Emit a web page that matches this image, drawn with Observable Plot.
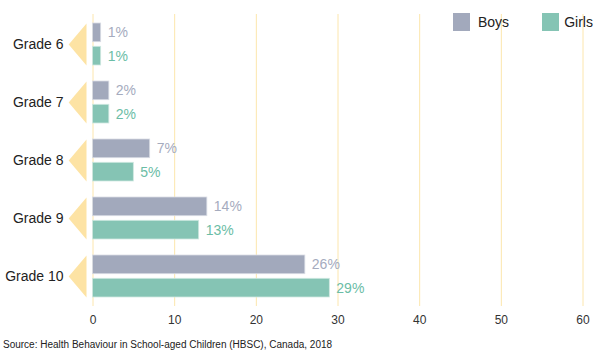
<!DOCTYPE html>
<html>
<head>
<meta charset="utf-8">
<script src="https://cdn.jsdelivr.net/npm/d3@7"></script>
<script src="https://cdn.jsdelivr.net/npm/@observablehq/plot@0.6"></script>
<style>
  html, body { margin: 0; padding: 0; background: #fff; }
  body { width: 600px; height: 356px; position: relative; overflow: hidden;
         font-family: "Liberation Sans", Arial, Helvetica, sans-serif; }
  #legend { position: absolute; top: 13px; left: 453px; display: flex; align-items: center;
            font-size: 14px; color: #222; }
  .sw { width: 17px; height: 18px; display: inline-block; }
  .lab { margin-left: 8px; line-height: 18px; }
  #caption { position: absolute; left: 3px; top: 339px; font-size: 10px; color: #222; line-height: 12px; }
</style>
</head>
<body>
<div id="chart"></div>
<div id="legend">
  <span class="sw" style="background:#a2a9bc"></span><span class="lab" style="margin-right:33px">Boys</span>
  <span class="sw" style="background:#85c4b4"></span><span class="lab" style="margin-left:5px">Girls</span>
</div>
<div id="caption">Source: Health Behaviour in School-aged Children (HBSC), Canada, 2018</div>
<script>
const grades = ["Grade 6", "Grade 7", "Grade 8", "Grade 9", "Grade 10"];
const boys = [1, 2, 7, 14, 26];
const girls = [1, 2, 5, 13, 29];
const xTicks = [0, 10, 20, 30, 40, 50, 60];

const boysData = grades.map((g, i) => ({grade: g, value: boys[i]}));
const girlsData = grades.map((g, i) => ({grade: g, value: girls[i]}));

const leftTriangle = {
  draw(context) {
    context.moveTo(-24.3, 0);
    context.lineTo(-6.5, -21);
    context.lineTo(-6.5, 21);
    context.closePath();
  }
};

const chart = Plot.plot({
  width: 600,
  height: 330,
  marginLeft: 92.5,
  marginRight: 17.5,
  marginTop: 14,
  marginBottom: 24,
  style: {fontFamily: "'Liberation Sans', Arial, Helvetica, sans-serif", background: "#fff"},
  x: {domain: [0, 60], ticks: xTicks, tickSize: 0, tickPadding: 9, label: null, tickFormat: d => String(d)},
  y: {domain: grades, paddingInner: 0.28, paddingOuter: 0.145, tickSize: 0, tickPadding: 29.5, label: null},
  marks: [
    Plot.ruleX(xTicks, {x: d => d, stroke: "#fce6ad", strokeWidth: 1}),
    Plot.dot(grades, {y: d => d, frameAnchor: "left", symbol: leftTriangle, fill: "#fde3a4", stroke: "none"}),
    Plot.barX(boysData, {y: "grade", x: "value", fill: "#a2a9bc", stroke: "#d9dce4", strokeWidth: 0.8, insetBottom: 23.3}),
    Plot.barX(girlsData, {y: "grade", x: "value", fill: "#85c4b4", stroke: "#cfe8e1", strokeWidth: 0.8, insetTop: 23.3}),
    Plot.text(boysData, {y: "grade", x: "value", text: d => d.value + "%", dy: -11.65, dx: 6.5,
      textAnchor: "start", fill: "#a5abbe", fontSize: 14}),
    Plot.text(girlsData, {y: "grade", x: "value", text: d => d.value + "%", dy: 11.65, dx: 6.5,
      textAnchor: "start", fill: "#6bbda6", fontSize: 14})
  ]
});
chart.style.display = "block";
document.getElementById("chart").appendChild(chart);
chart.querySelectorAll('[aria-label="y-axis tick label"]').forEach(el => {
  el.setAttribute("font-size", 14); el.setAttribute("fill", "#222");
});
chart.querySelectorAll('[aria-label="x-axis tick label"]').forEach(el => {
  el.setAttribute("font-size", 12); el.setAttribute("fill", "#333");
});
</script>
</body>
</html>
